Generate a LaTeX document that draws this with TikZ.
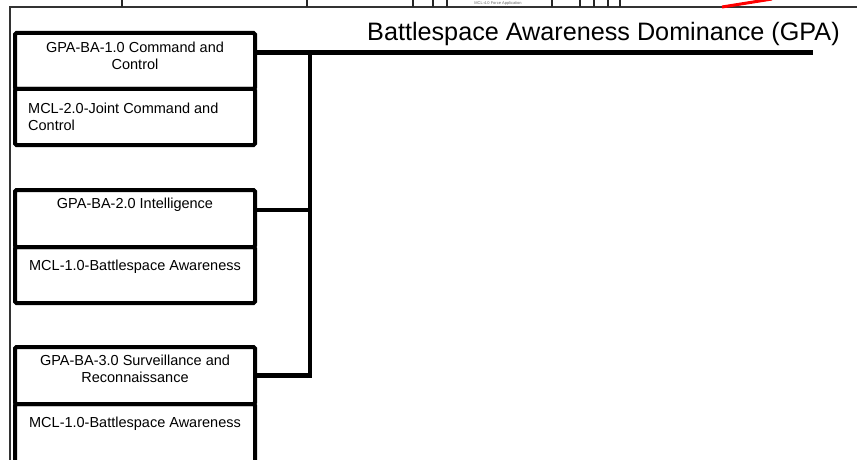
\documentclass[tikz,border=0pt]{standalone}
\usepackage{fontspec}
\setmainfont{Liberation Sans}
\begin{document}
\begin{tikzpicture}[x=1pt,y=-1pt,
  cell/.style={draw, line width=4pt, rounded corners=1.5pt, minimum width=240pt, inner sep=0pt, outer sep=0pt, anchor=north west},
  ctext/.style={font=\fontsize{14.5}{17}\selectfont, inner sep=0pt, align=center, anchor=north},
  link/.style={line width=4.5pt},
  thinlink/.style={line width=3.3pt},
  frame/.style={line width=1.2pt, black!80},
  frag/.style={line width=1.2pt, black!85}]
\clip (0,0) rectangle (857,460);
% frame of the picture
\coordinate (ftl) at (10,7); \coordinate (ftr) at (857,7); \coordinate (fbl) at (10,465);
\draw[frame] (fbl) -- (ftl) -- (ftr);
% fragments of the picture above
\foreach \x in {122,307,413,433,447,552,580,594,608,620} \draw[frag] (\x,-1) -- (\x,7);
\draw[red, line width=3pt] (722,7) -- (772,-1);
\node[font=\fontsize{4}{4}\selectfont, text=black!60, inner sep=0pt] (fragtxt) at (498,3.5) {MCL-4.0 Force Application};
% title
\node[font=\fontsize{25.2}{29}\selectfont, anchor=base west, inner sep=0pt] (title) at (367,41) {Battlespace Awareness Dominance (GPA)};
% cells
\node[cell, minimum height=56pt] (c1a) at (15,33) {};
\node[cell, minimum height=56pt] (c1b) at (15,89) {};
\node[cell, minimum height=57pt] (c2a) at (15,190) {};
\node[cell, minimum height=56pt] (c2b) at (15,247) {};
\node[cell, minimum height=57pt] (c3a) at (15,347) {};
\node[cell, minimum height=80pt] (c3b) at (15,404) {};
% texts
\node[ctext] (t1a) at ([yshift=-8.5pt]c1a.north) {GPA-BA-1.0 Command and\\Control};
\node[ctext, anchor=north west, align=left] (t1b) at (28,102.5) {MCL-2.0-Joint Command and\\Control};
\node[ctext] (t2a) at ([yshift=-7.5pt]c2a.north) {GPA-BA-2.0 Intelligence};
\node[ctext] (t2b) at ([yshift=-12.5pt]c2b.north) {MCL-1.0-Battlespace Awareness};
\node[ctext] (t3a) at ([yshift=-7.5pt]c3a.north) {GPA-BA-3.0 Surveillance and\\Reconnaissance};
\node[ctext] (t3b) at ([yshift=-12.5pt]c3b.north) {MCL-1.0-Battlespace Awareness};
% connectors
\coordinate (j1) at (310,52.5); \coordinate (lineend) at (813,52.5);
\coordinate (j2) at (310,210); \coordinate (j3) at (310,375.5);
\draw[link] (c1a.east |- j1) -- (lineend);
\draw[link] (c3a.east |- j3) -- (j3) -- (j1);
\draw[thinlink] (c2a.east |- j2) -- (j2);
\end{tikzpicture}
\end{document}
